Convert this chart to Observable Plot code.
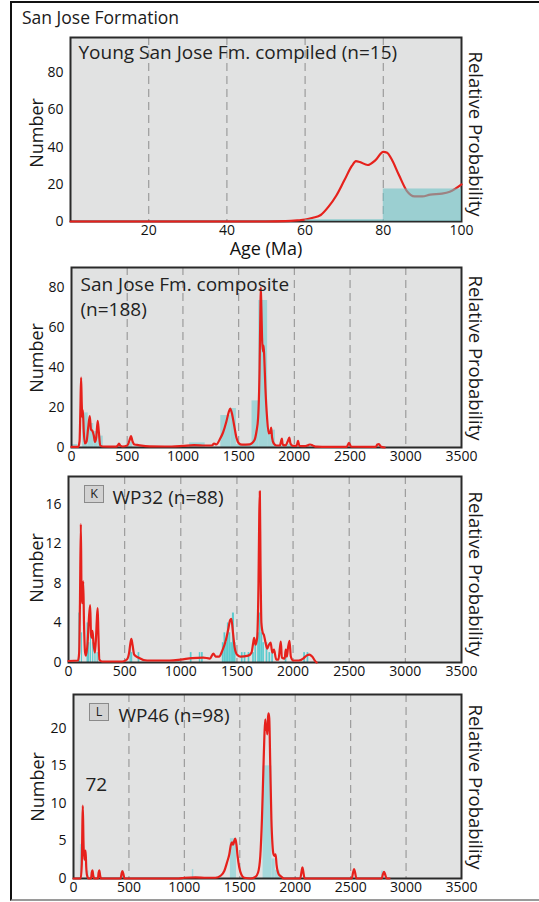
<!DOCTYPE html>
<html><head><meta charset="utf-8">
<script src="https://cdn.jsdelivr.net/npm/d3@7"></script>
<script src="https://cdn.jsdelivr.net/npm/@observablehq/plot@0.6"></script>
<style>
html,body{margin:0;padding:0;background:#fff;}
#fig{position:relative;width:539px;height:902px;overflow:hidden;font-family:"Open Sans",sans-serif;color:#1a1a1a;}
#outer{position:absolute;left:10px;top:1px;width:600px;height:896px;border-left:2.5px solid #111;border-top:2.5px solid #111;border-bottom:2px solid #9a9a9a;}
.abs{position:absolute;white-space:nowrap;}
.num{font-size:18px;transform:translate(-50%,-50%) rotate(-90deg);}
.rp{font-size:18.5px;transform:translate(-50%,-50%) rotate(90deg);}
.box{position:absolute;width:18px;height:16px;background:#d2d2d2;border:1.3px solid #8a8a8a;font-size:12.5px;line-height:16px;text-align:center;color:#222;}
.panel{position:absolute;left:0;}
</style></head>
<body><div id="fig"><div id="outer"></div>
<div class="abs" style="left:22px;top:9px;font-size:17.5px;line-height:17.5px;">San Jose Formation</div>
</div>
<script>
// ---------- Panel 1: Young San Jose Fm. compiled (n=15) ----------
const youngBinStart = [0, 20, 40, 60, 80];
const youngBinEnd   = [20, 40, 60, 80, 100];
const youngCount    = [0, 0, 0, 1, 17.5];
const youngPdpAge = [0, 50, 55, 58, 60, 62, 64, 66, 68, 70, 72, 73, 74, 76, 78, 80, 81, 82, 84, 86, 88, 90, 92, 95, 97, 100];
const youngPdpVal = [0, 0, 0.2, 0.6, 1, 2, 3.5, 8, 14, 22, 30, 32.5, 32, 30.4, 33, 37.5, 37, 34, 25, 16.5, 13.5, 13.5, 14.5, 15, 16, 20];
const youngXTicks = [20, 40, 60, 80, 100];
const youngYTicks = [0, 20, 40, 60, 80];

// ---------- Panel 2: San Jose Fm. composite (n=188) ----------
const compBinStart = [0, 100, 150, 200, 240, 500, 1060, 1340, 1430, 1480, 1620, 1680, 1760, 1830, 1900];
const compBinEnd   = [55, 150, 200, 240, 285, 550, 1200, 1430, 1480, 1620, 1680, 1760, 1830, 1890, 1990];
const compCount    = [1.5, 17.3, 12, 8, 5.7, 2.5, 2.3, 16, 19.5, 1.5, 23.3, 73.5, 8.7, 1, 1.5];
const compPdpAge = [0, 60, 72, 80, 86, 92, 97, 102, 110, 120, 135, 150, 164, 175, 188, 200, 210, 222, 235, 245, 258, 280, 400, 415, 426, 437, 460, 500, 520, 534, 548, 565, 600, 700, 900, 1000, 1100, 1200, 1260, 1280, 1300, 1330, 1360, 1390, 1410, 1424, 1440, 1460, 1480, 1500, 1530, 1600, 1640, 1660, 1675, 1688, 1695, 1699, 1704, 1710, 1718, 1724, 1730, 1740, 1755, 1770, 1785, 1792, 1800, 1815, 1840, 1870, 1880, 1888, 1895, 1920, 1940, 1955, 1965, 1985, 2020, 2033, 2045, 2100, 2125, 2141, 2165, 2200, 2300, 2470, 2490, 2510, 2730, 2745, 2759, 2775, 2810];
const compPdpVal = [0.3, 0.3, 3, 20, 35, 22, 15, 18.7, 8, 2, 3, 10, 15.7, 9, 8.3, 6, 2.8, 5, 13.3, 8, 1, 0.5, 0.4, 1, 2, 1, 0.5, 1, 3.5, 5.7, 3, 1.5, 1.2, 0.6, 0.5, 0.8, 1.2, 1, 1, 2, 1.5, 4, 7.5, 13, 17.5, 19.5, 17, 11, 5, 2.2, 1.4, 1.6, 3.5, 8, 15, 40, 68, 80, 70, 55, 48, 51, 45, 30, 15, 7, 8, 10, 5, 2, 1, 1, 3, 4.5, 1.5, 1, 3, 5, 2, 0.8, 0.8, 3.3, 0.8, 0.7, 1.2, 1.5, 1, 0.4, 0.3, 0.3, 2.3, 0.4, 0.3, 1.5, 1.7, 0.5, 0];
const compYTicks = [0, 20, 40, 60, 80];

// ---------- Panel 3: WP32 (n=88) ----------
const wp32BinStart = [92, 115, 165, 178, 195, 215, 235, 255, 548, 560, 620, 1085, 1165, 1185, 1370, 1385, 1400, 1415, 1430, 1445, 1460, 1478, 1540, 1565, 1600, 1640, 1660, 1685, 1700, 1715, 1730, 1760, 1785, 1810, 1930, 2095, 2125];
const wp32BinEnd   = [105, 125, 178, 190, 205, 225, 245, 265, 560, 572, 635, 1100, 1178, 1200, 1385, 1400, 1415, 1430, 1445, 1460, 1478, 1492, 1555, 1580, 1615, 1655, 1675, 1700, 1715, 1730, 1745, 1775, 1800, 1825, 1945, 2110, 2140];
const wp32Count    = [5, 3, 4, 2, 3, 2, 1, 1, 1.5, 1, 1, 1, 1, 1, 2, 3, 2, 4, 3, 2, 5, 2, 1, 1, 1, 1, 2, 3, 5, 3, 2, 2, 1, 1, 1, 1, 1];
const wp32PdpAge = [0, 85, 95, 102, 110, 116, 122, 131, 138, 148, 156, 170, 182, 193, 200, 207, 214, 222, 235, 245, 253, 260, 266, 275, 300, 480, 520, 540, 552, 560, 570, 585, 620, 700, 900, 1000, 1100, 1200, 1260, 1290, 1310, 1340, 1370, 1400, 1420, 1440, 1450, 1465, 1480, 1500, 1530, 1600, 1630, 1645, 1653, 1665, 1680, 1692, 1699, 1704, 1710, 1718, 1730, 1740, 1755, 1770, 1785, 1800, 1815, 1830, 1850, 1870, 1883, 1891, 1900, 1925, 1935, 1945, 1955, 1968, 1980, 2000, 2050, 2090, 2120, 2145, 2170, 2200, 2210];
const wp32PdpVal = [0.15, 0.2, 1, 6, 14, 7, 6, 8.2, 4, 1, 0.7, 2, 4.5, 5.8, 3, 2.5, 3.2, 2, 1, 2.5, 4.5, 5.5, 3, 0.3, 0.1, 0.1, 0.3, 1, 2, 2.4, 1.8, 0.8, 0.5, 0.2, 0.2, 0.3, 0.45, 0.5, 0.4, 0.9, 0.6, 0.6, 1.2, 2.2, 3.2, 4.3, 4.4, 3, 1.5, 0.8, 0.6, 0.7, 1, 2, 2.5, 1.8, 2.5, 8, 15, 17.3, 10, 4, 3, 2.8, 2, 1.4, 1.8, 2, 1, 1.3, 0.3, 0.3, 1.5, 2.1, 0.5, 0.4, 1.3, 0.6, 1.5, 2.2, 0.6, 0.2, 0.2, 0.4, 0.7, 0.8, 0.6, 0.1, 0];
const wp32YTicks = [0, 4, 8, 12, 16];

// ---------- Panel 4: WP46 (n=98) ----------
const wp46BinStart = [62, 120, 160, 438, 1072, 1415, 1710, 1790, 1820, 1850, 2780];
const wp46BinEnd   = [80, 140, 175, 455, 1085, 1470, 1790, 1820, 1860, 1865, 2795];
const wp46Count    = [4.5, 1, 1, 1, 1.2, 5.3, 15, 2.6, 1.1, 1, 1];
const wp46PdpAge = [0, 65, 75, 80, 84, 90, 97, 104, 109, 115, 121, 135, 158, 165, 171, 178, 190, 220, 227, 233, 240, 250, 425, 433, 441, 450, 460, 950, 1000, 1100, 1200, 1280, 1330, 1360, 1388, 1405, 1420, 1430, 1440, 1450, 1460, 1470, 1480, 1495, 1515, 1540, 1600, 1640, 1665, 1685, 1700, 1712, 1722, 1730, 1736, 1742, 1748, 1755, 1760, 1766, 1775, 1785, 1795, 1803, 1812, 1823, 1832, 1850, 1870, 1900, 2045, 2058, 2065, 2072, 2085, 2510, 2522, 2531, 2540, 2552, 2780, 2792, 2801, 2810, 2825, 2850];
const wp46PdpVal = [0, 0, 2, 7, 9.7, 5, 2.5, 3.5, 3.7, 1.5, 0.5, 0, 0, 0.8, 1.1, 0.4, 0, 0, 0.8, 1.1, 0.4, 0, 0, 0.6, 1, 0.6, 0, 0, 0.1, 0.15, 0.1, 0.1, 0.4, 1, 2.3, 3.2, 4.5, 4.8, 4.5, 5, 5.3, 4.5, 3, 1.5, 0.5, 0.1, 0, 0.2, 0.8, 3, 8, 14, 19, 21.2, 19.8, 20.5, 19.2, 21.5, 22, 21.3, 15, 8, 4.5, 3.3, 3, 3.2, 1.8, 0.6, 0.3, 0, 0, 1, 1.5, 1, 0, 0, 0.8, 1.25, 0.8, 0, 0, 0.6, 0.9, 0.6, 0, 0];
const wp46YTicks = [0, 5, 10, 15, 20];

const oldXTicks = [0, 500, 1000, 1500, 2000, 2500, 3000, 3500];
const oldGrid = [500, 1000, 1500, 2000, 2500, 3000];
const youngGrid = [20, 40, 60, 80];

const BG = "#e1e2e2";
const RED = "#e6211c";
const FONT = "'Open Sans', sans-serif";

const bins = (a, b, n) => a.map((v, i) => ({a0: v, a1: b[i], n: n[i]}));
const pdp = (a, v) => a.map((x, i) => ({age: x, p: v[i]}));

const fig = document.getElementById("fig");

function panel(cfg) {
  const W = 539;
  const {top, height, fl, fr, ft, fb} = cfg;
  const barMark = Plot.rectY(cfg.bars, {x1: "a0", x2: "a1", y: "n", fill: cfg.barFill, fillOpacity: cfg.barOpacity ?? 1});
  const frameMark = Plot.frame({stroke: "#2a2a2a", strokeWidth: 2});
  const lineMark = Plot.line(cfg.pdp, {x: "age", y: "p", stroke: RED, strokeWidth: 2.2, curve: "monotone-x"});
  const marks = [
    Plot.frame({fill: BG}),
    Plot.ruleX(cfg.grid, {stroke: "#9c9c9c", strokeWidth: 1.2, strokeDasharray: "8,5"}),
  ];
  if (cfg.barsOver) marks.push(frameMark, lineMark, barMark);
  else marks.push(barMark, frameMark, lineMark);
  marks.push(...cfg.texts);
  const svg = Plot.plot({
    width: W, height,
    marginLeft: fl, marginRight: W - fr, marginTop: ft - top, marginBottom: top + height - fb,
    x: {domain: cfg.xDomain, ticks: cfg.xTicks, tickFormat: "d", tickSize: 0, tickPadding: 4, label: null},
    y: {domain: cfg.yDomain, ticks: cfg.yTicks, tickFormat: "d", tickSize: 0, tickPadding: 7, label: null},
    style: {fontFamily: FONT, fontSize: "14px", background: "transparent", overflow: "visible", color: "#111"},
    marks
  });
  svg.classList.add("panel");
  svg.style.top = top + "px";
  fig.appendChild(svg);
  const n = document.createElement("div");
  n.className = "abs num"; n.textContent = "Number";
  n.style.left = cfg.numX + "px"; n.style.top = cfg.labY + "px";
  fig.appendChild(n);
  const r = document.createElement("div");
  r.className = "abs rp"; r.textContent = "Relative Probability";
  r.style.left = "476px"; r.style.top = cfg.rpY + "px";
  fig.appendChild(r);
  if (cfg.box) {
    const b = document.createElement("div");
    b.className = "box"; b.textContent = cfg.box;
    b.style.left = (fl + 16) + "px"; b.style.top = (ft + 9) + "px";
    fig.appendChild(b);
  }
}

const titleOpts = (dx, dy, extra = {}) => ({frameAnchor: "top-left", dx, dy, textAnchor: "start", lineAnchor: "top", fontSize: 19, fill: "#222", fontFamily: FONT, text: d => d, ...extra});

panel({
  top: 30, height: 234, fl: 70, fr: 461, ft: 37, fb: 221,
  xDomain: [0, 100], yDomain: [0, 99], xTicks: youngXTicks, yTicks: youngYTicks, grid: youngGrid,
  bars: bins(youngBinStart, youngBinEnd, youngCount), barFill: "#6cc3c6", barOpacity: 0.6, barsOver: true,
  pdp: pdp(youngPdpAge, youngPdpVal),
  texts: [
    Plot.text(["Young San Jose Fm. compiled (n=15)"], titleOpts(8, 8)),
    Plot.text(["Age (Ma)"], {frameAnchor: "bottom", dy: 28, lineAnchor: "middle", fontSize: 18, fill: "#111", fontFamily: FONT, text: d => d})
  ],
  numX: 36, labY: 133, rpY: 134
});

panel({
  top: 262, height: 208, fl: 71, fr: 461, ft: 267, fb: 447,
  xDomain: [0, 3500], yDomain: [0, 90], xTicks: oldXTicks, yTicks: compYTicks, grid: oldGrid,
  bars: bins(compBinStart, compBinEnd, compCount), barFill: "#a2d5d7",
  pdp: pdp(compPdpAge, compPdpVal),
  texts: [Plot.text(["San Jose Fm. composite\n(n=188)"], titleOpts(9, 5, {lineHeight: 1.35}))],
  numX: 36, labY: 357.5, rpY: 357.5
});

panel({
  top: 470, height: 214, fl: 68, fr: 461, ft: 476, fb: 662,
  xDomain: [0, 3500], yDomain: [0, 18.8], xTicks: oldXTicks, yTicks: wp32YTicks, grid: oldGrid,
  bars: bins(wp32BinStart, wp32BinEnd, wp32Count), barFill: "#5ccbce",
  pdp: pdp(wp32PdpAge, wp32PdpVal),
  texts: [Plot.text(["WP32 (n=88)"], titleOpts(44, 14))],
  box: "K", numX: 36, labY: 568, rpY: 574
});

panel({
  top: 688, height: 210, fl: 73, fr: 461, ft: 694, fb: 878,
  xDomain: [0, 3500], yDomain: [0, 24.5], xTicks: oldXTicks, yTicks: wp46YTicks, grid: oldGrid,
  bars: bins(wp46BinStart, wp46BinEnd, wp46Count), barFill: "#a6d8db",
  pdp: pdp(wp46PdpAge, wp46PdpVal),
  texts: [
    Plot.text(["WP46 (n=98)"], titleOpts(45, 14)),
    Plot.text(["72"], titleOpts(12, 83))
  ],
  box: "L", numX: 37, labY: 787, rpY: 786.5
});
</script>
</body></html>
